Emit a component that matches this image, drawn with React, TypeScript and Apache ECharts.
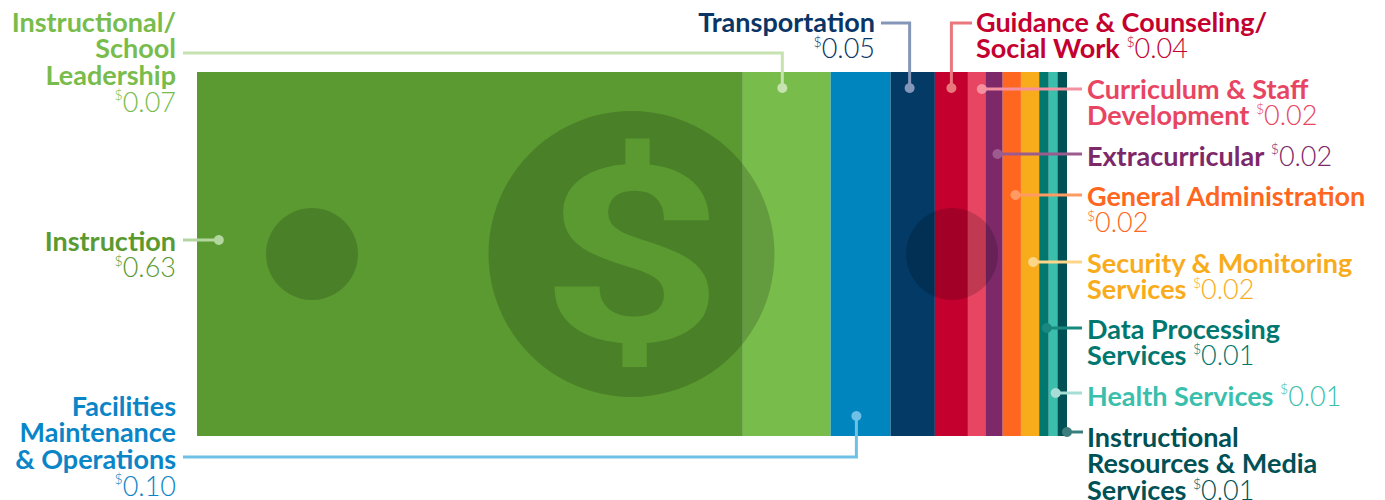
import { useEffect, useRef } from "react";
import * as echarts from "echarts";

// ---- data ----
const categories = [
  "Instruction",
  "Instructional/School Leadership",
  "Facilities Maintenance & Operations",
  "Transportation",
  "Guidance & Counseling/Social Work",
  "Curriculum & Staff Development",
  "Extracurricular",
  "General Administration",
  "Security & Monitoring Services",
  "Data Processing Services",
  "Health Services",
  "Instructional Resources & Media Services",
];
// amounts printed on the labels (per dollar)
const amounts = [0.63, 0.07, 0.1, 0.05, 0.04, 0.02, 0.02, 0.02, 0.02, 0.01, 0.01, 0.01];
// share of the dollar bill as drawn (segment widths)
const barShares = [0.628, 0.101, 0.069, 0.051, 0.038, 0.02, 0.02, 0.021, 0.021, 0.011, 0.01, 0.011];
const nameLines = [
  ["Instruction"],
  ["Instructional/", "School", "Leadership"],
  ["Facilities", "Maintenance", "& Operations"],
  ["Transportation"],
  ["Guidance & Counseling/", "Social Work"],
  ["Curriculum & Staff", "Development"],
  ["Extracurricular"],
  ["General Administration"],
  ["Security & Monitoring", "Services"],
  ["Data Processing", "Services"],
  ["Health Services"],
  ["Instructional", "Resources & Media", "Services"],
];

// ---- styles ----
const barColors = ["#5a9a31", "#78bc4b", "#0085be", "#033a66", "#c4002f", "#e84562", "#7d2869", "#ff6720", "#f9ac1b", "#00776f", "#3bbfad", "#005155"];
const textColors = ["#5a9a31", "#78bc4b", "#0a85c7", "#0a3565", "#c4002f", "#e84562", "#7d2869", "#ff6720", "#f9ac1b", "#00776f", "#3bbfad", "#005155"];
const leaderColors = ["#b3d59e", "#c5e2b0", "#6fc0e6", "#8597b9", "#e8787c", "#f4909f", "#9c5b8e", "#ff9a63", "#fdd68a", "#19897f", "#a6ded5", "#3b7e7d"];

type Anchor = {
  frac: number; dotY: number; elbowY?: number; endX: number;
  align: "left" | "right"; textX: number; textY: number; inline: boolean;
};
const anchors: Anchor[] = [
  { frac: 0.04, dotY: 240, endX: 183, align: "right", textX: 176, textY: 240, inline: false },
  { frac: 0.45, dotY: 88, elbowY: 53, endX: 183, align: "right", textX: 176, textY: 21, inline: false },
  { frac: 0.43, dotY: 416, elbowY: 457, endX: 183, align: "right", textX: 176, textY: 405, inline: false },
  { frac: 0.43, dotY: 88, elbowY: 23, endX: 881, align: "right", textX: 875, textY: 21, inline: false },
  { frac: 0.5, dotY: 88, elbowY: 23, endX: 972, align: "left", textX: 976, textY: 21, inline: true },
  { frac: 0.8, dotY: 89, endX: 1082, align: "left", textX: 1087, textY: 88, inline: true },
  { frac: 0.7, dotY: 154, endX: 1082, align: "left", textX: 1087, textY: 155, inline: true },
  { frac: 0.7, dotY: 195, endX: 1082, align: "left", textX: 1087, textY: 195, inline: false },
  { frac: 0.67, dotY: 262, endX: 1082, align: "left", textX: 1087, textY: 262, inline: true },
  { frac: 0.8, dotY: 328, endX: 1082, align: "left", textX: 1087, textY: 328, inline: true },
  { frac: 0.8, dotY: 393, endX: 1082, align: "left", textX: 1087, textY: 395, inline: true },
  { frac: 1.0, dotY: 432, endX: 1083, align: "left", textX: 1087, textY: 436, inline: true },
];

const FONT = "Lato";
const LH = 26.7;
const FS = 27;

export default function App() {
  const ref = useRef<HTMLDivElement>(null);
  useEffect(() => {
    document.body.style.margin = "0";
    if (!ref.current) return;
    const chart = echarts.init(ref.current, undefined, { renderer: "svg" });
    const total = barShares.reduce((a, b) => a + b, 0);
    chart.setOption({
      animation: false,
      grid: { left: 197, right: 318, top: 72, bottom: 64 },
      xAxis: { type: "value", min: 0, max: total, show: false },
      yAxis: { type: "category", data: ["$1"], show: false },
      series: categories.map((name, i) => ({
        name,
        type: "bar",
        stack: "dollar",
        barWidth: "100%",
        silent: true,
        itemStyle: { color: barColors[i] },
        data: [barShares[i]],
      })),
    });

    const starts: number[] = [];
    barShares.reduce((acc, v, i) => { starts[i] = acc; return acc + v; }, 0);
    const px = (v: number) => (chart.convertToPixel({ gridIndex: 0 }, [v, 0]) as number[])[0];
    const left = px(0), right = px(total);
    const top = 72, bottom = 436, midY = (top + bottom) / 2;

    const graphics: any[] = [
      // dollar-bill decorations
      { type: "circle", z: 10, shape: { cx: left + 115, cy: midY, r: 46 }, style: { fill: "rgba(0,0,0,0.17)" } },
      { type: "circle", z: 10, shape: { cx: left + 434.5, cy: midY, r: 143 }, style: { fill: "rgba(0,0,0,0.17)" } },
      { type: "circle", z: 10, shape: { cx: right - 115, cy: midY, r: 46 }, style: { fill: "rgba(0,0,0,0.17)" } },
      {
        type: "text", z: 11, x: left + 435, y: midY + 3, scaleX: 1.3,
        style: { text: "$", fill: "#5a9a31", font: `700 246px Roboto`, textAlign: "center", textVerticalAlign: "middle", align: "center", verticalAlign: "middle" },
      },
    ];

    categories.forEach((_, i) => {
      const a = anchors[i];
      const dx = px(starts[i] + barShares[i] * a.frac);
      const pts = a.elbowY !== undefined
        ? [[dx, a.dotY], [dx, a.elbowY], [a.endX, a.elbowY]]
        : [[dx, a.dotY], [a.endX, a.dotY]];
      graphics.push({ type: "polyline", z: 20, shape: { points: pts }, style: { stroke: leaderColors[i], lineWidth: 3, fill: null } });
      graphics.push({ type: "circle", z: 21, shape: { cx: dx, cy: a.dotY, r: 5 }, style: { fill: leaderColors[i] } });

      const lines = nameLines[i].map((l) => `{b|${l}}`);
      const val = `{s|$}{v|${amounts[i].toFixed(2)}}`;
      let text: string;
      if (a.inline) {
        lines[lines.length - 1] = `{b|${nameLines[i][nameLines[i].length - 1]} }` + val;
        text = lines.join("\n");
      } else {
        text = lines.join("\n") + "\n" + val;
      }
      const c = textColors[i];
      graphics.push({
        type: "text", z: 22, x: a.textX, y: a.textY - LH / 2,
        style: {
          text,
          textAlign: a.align, align: a.align,
          textVerticalAlign: "top", verticalAlign: "top",
          rich: {
            b: { fontFamily: FONT, fontWeight: 700, fontSize: FS, lineHeight: LH, color: c, fill: c },
            v: { fontFamily: FONT, fontWeight: 300, fontSize: FS, lineHeight: LH, color: c, fill: c },
            s: { fontFamily: FONT, fontWeight: 300, fontSize: 14, lineHeight: 18, verticalAlign: "top", color: c, fill: c },
          },
        },
      });
    });

    chart.setOption({ graphic: graphics });
    return () => chart.dispose();
  }, []);
  return <div ref={ref} style={{ width: 1385, height: 500 }} />;
}
